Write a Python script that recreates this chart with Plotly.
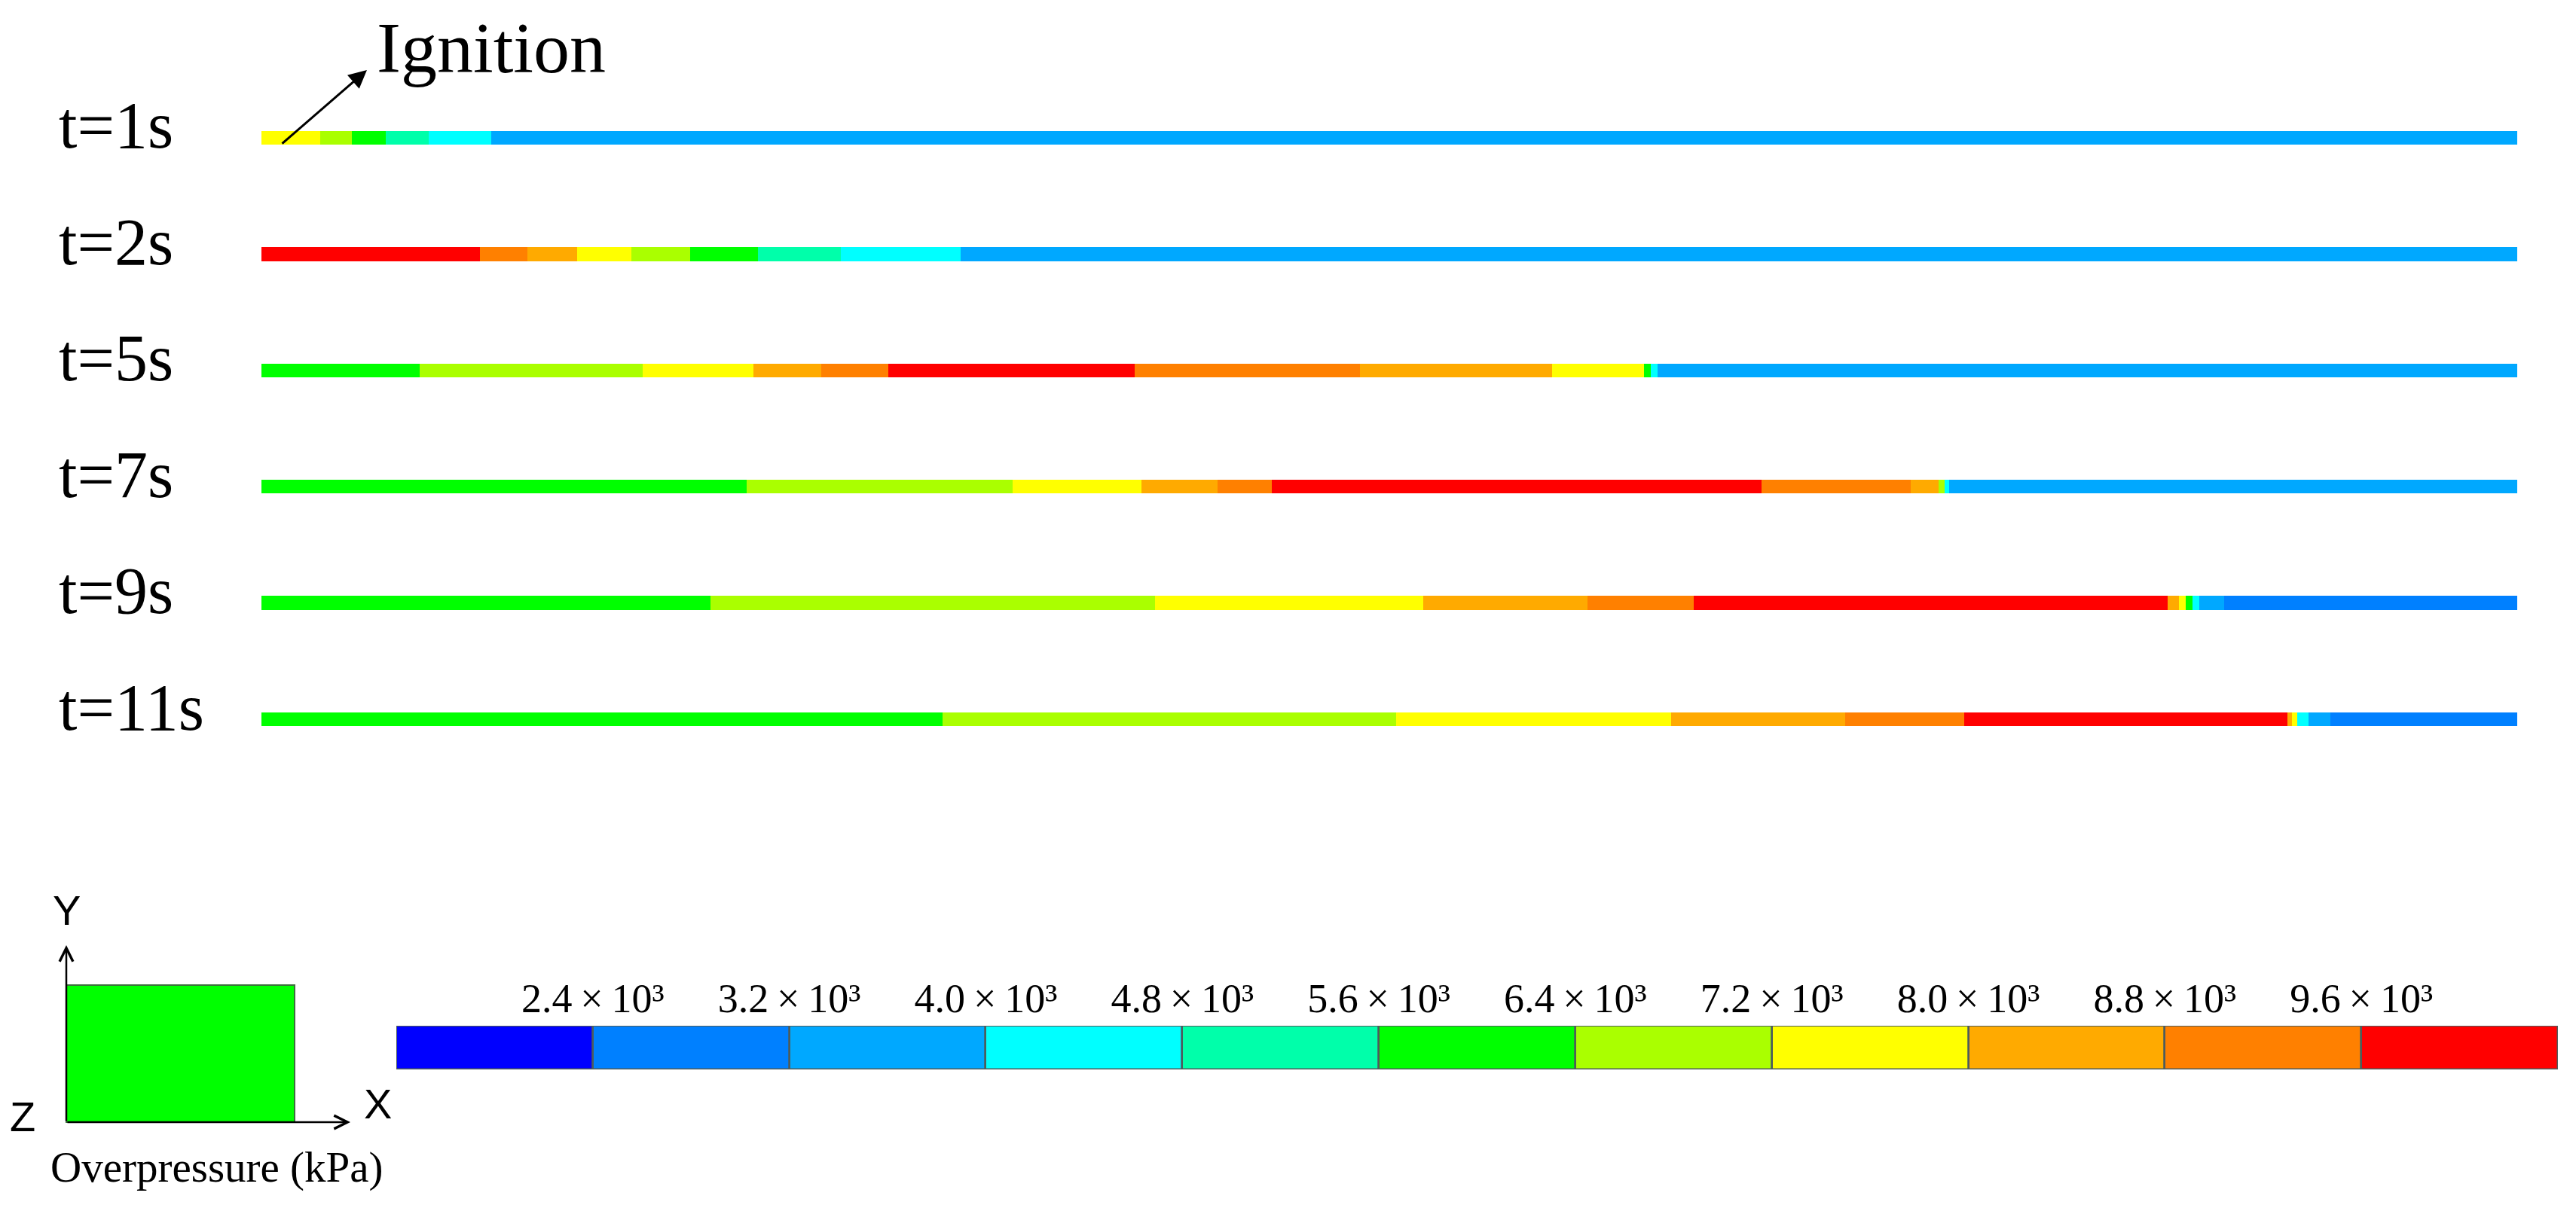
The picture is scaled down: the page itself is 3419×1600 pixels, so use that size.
import bisect
import plotly.graph_objects as go

# ---------------- data ----------------
time_labels = ["t=1s", "t=2s", "t=5s", "t=7s", "t=9s", "t=11s"]

# overpressure legend classes (kPa)
legend_edges = [1600, 2400, 3200, 4000, 4800, 5600, 6400, 7200, 8000, 8800, 9600, 10400]
legend_colors = ["#0000FF", "#0080FF", "#00A8FF", "#00FFFF", "#00FFAA", "#00FF00",
                 "#AAFF00", "#FFFF00", "#FFAA00", "#FF8000", "#FF0000"]
tick_values = [2400, 3200, 4000, 4800, 5600, 6400, 7200, 8000, 8800, 9600]
tick_labels = ["2.4\u2009×\u200910³", "3.2\u2009×\u200910³", "4.0\u2009×\u200910³",
               "4.8\u2009×\u200910³", "5.6\u2009×\u200910³", "6.4\u2009×\u200910³",
               "7.2\u2009×\u200910³", "8.0\u2009×\u200910³", "8.8\u2009×\u200910³",
               "9.6\u2009×\u200910³"]

# segment end positions along the tube (% of tube length) and overpressure class (kPa)
t1_ends = [2.6, 4.0, 5.5, 7.4, 10.2, 100.0]
t1_vals = [7600, 6800, 6000, 5200, 4400, 3600]

t2_ends = [9.7, 11.8, 14.0, 16.4, 19.0, 22.0, 25.7, 31.0, 100.0]
t2_vals = [10000, 9200, 8400, 7600, 6800, 6000, 5200, 4400, 3600]

t5_ends = [7.0, 16.9, 21.8, 24.8, 27.8, 38.7, 48.7, 57.2, 61.3, 61.6, 61.9, 100.0]
t5_vals = [6000, 6800, 7600, 8400, 9200, 10000, 9200, 8400, 7600, 6000, 4400, 3600]

t7_ends = [21.5, 33.3, 39.0, 42.4, 44.8, 66.5, 73.1, 74.35, 74.6, 74.8, 100.2]
t7_vals = [6000, 6800, 7600, 8400, 9200, 10000, 9200, 8400, 6800, 4400, 3600]

t9_ends = [19.9, 39.6, 51.5, 58.8, 63.5, 84.5, 85.0, 85.3, 85.6, 85.9, 87.0, 100.0]
t9_vals = [6000, 6800, 7600, 8400, 9200, 10000, 8400, 7600, 6000, 4400, 3600, 2800]

t11_ends = [30.2, 50.3, 62.5, 70.2, 75.5, 89.8, 90.0, 90.25, 90.75, 91.7, 100.0]
t11_vals = [6000, 6800, 7600, 8400, 9200, 10000, 8400, 7600, 4400, 3600, 2800]

rows_ends = [t1_ends, t2_ends, t5_ends, t7_ends, t9_ends, t11_ends]
rows_vals = [t1_vals, t2_vals, t5_vals, t7_vals, t9_vals, t11_vals]

# ---------------- layout helpers ----------------
W, H = 3419, 1600
OFF = 8  # page body margin of the html page


def px(x):
    return (x - OFF) / W


def py(y):
    return 1 - (y - OFF) / H


def color_of(v):
    i = bisect.bisect_right(legend_edges, v) - 1
    i = max(0, min(i, len(legend_colors) - 1))
    return legend_colors[i]


SERIF = "Liberation Serif, Times New Roman, serif"
SANS = "Liberation Sans, Arial, sans-serif"

fig = go.Figure()

# tube rows
for i, (ends, vals) in enumerate(zip(rows_ends, rows_vals)):
    starts = [0.0] + ends[:-1]
    lengths = [e - s for s, e in zip(starts, ends)]
    fig.add_trace(go.Bar(
        y=[i] * len(ends), x=lengths, base=starts, orientation="h",
        width=0.118,
        marker=dict(color=[color_of(v) for v in vals], line=dict(width=0)),
        xaxis="x", yaxis="y", showlegend=False, hoverinfo="skip",
    ))

# legend bar
fig.add_trace(go.Bar(
    y=[0] * len(legend_colors),
    x=[legend_edges[k + 1] - legend_edges[k] for k in range(len(legend_colors))],
    base=legend_edges[:-1], orientation="h", width=1,
    marker=dict(color=legend_colors, line=dict(color="#4d5c5c", width=2.5)),
    xaxis="x2", yaxis="y2", showlegend=False, hoverinfo="skip",
))

# vertical mapping of the tube rows
top_px, bot_px, row0_px, pitch = 10, 1100, 183, 154.4
y_top = (top_px - row0_px) / pitch
y_bot = (bot_px - row0_px) / pitch

annotations = []
for i, lab in enumerate(time_labels):
    annotations.append(dict(
        text=lab, xref="paper", yref="y", x=px(76), y=i, xanchor="left",
        yanchor="middle", yshift=16, showarrow=False,
        font=dict(family=SERIF, size=88, color="black")))

# Ignition label + arrow
annotations.append(dict(text="Ignition", xref="paper", yref="paper", x=px(498), y=py(63),
                        xanchor="left", yanchor="middle", showarrow=False,
                        font=dict(family=SERIF, size=96, color="black")))
annotations.append(dict(text="", xref="paper", yref="paper", x=px(487), y=py(93),
                        ax=-114, ay=99, showarrow=True, arrowhead=2, arrowsize=1.6,
                        arrowwidth=3, arrowcolor="black", standoff=0))

# coordinate icon
annotations.append(dict(text="", xref="paper", yref="paper", x=px(88), y=py(1255),
                        ax=0, ay=235, showarrow=True, arrowhead=5, arrowsize=1.4,
                        arrowwidth=2.5, arrowcolor="black"))
annotations.append(dict(text="", xref="paper", yref="paper", x=px(465), y=py(1490),
                        ax=-377, ay=0, showarrow=True, arrowhead=5, arrowsize=1.4,
                        arrowwidth=2.5, arrowcolor="black"))
for t, (cx, cy) in zip(["Y", "X", "Z"], [(88, 1208), (502, 1465), (30, 1482)]):
    annotations.append(dict(text=t, xref="paper", yref="paper", x=px(cx), y=py(cy),
                            xanchor="center", yanchor="middle", showarrow=False,
                            font=dict(family=SANS, size=56, color="black")))
annotations.append(dict(text="Overpressure (kPa)", xref="paper", yref="paper",
                        x=px(288), y=py(1550), xanchor="center", yanchor="middle",
                        showarrow=False, font=dict(family=SERIF, size=57, color="black")))

shapes = [dict(type="rect", xref="paper", yref="paper", x0=px(88), x1=px(391),
               y0=py(1490), y1=py(1308), fillcolor="#00FF00",
               line=dict(color="#3c6e3c", width=2), layer="below")]

fig.update_layout(
    width=W, height=H, margin=dict(l=0, r=0, t=0, b=0),
    paper_bgcolor="white", plot_bgcolor="white",
    barmode="overlay", bargap=0,
    xaxis=dict(domain=[px(347), px(3341)], range=[0, 100], visible=False, fixedrange=True),
    yaxis=dict(domain=[py(bot_px), py(top_px)], range=[y_bot, y_top], visible=False,
               fixedrange=True),
    xaxis2=dict(domain=[px(526), px(3395)], range=[legend_edges[0], legend_edges[-1]],
                anchor="y2", side="top", tickvals=tick_values, ticktext=tick_labels,
                ticks="", showgrid=False, zeroline=False, showline=False,
                ticklabelstandoff=6,
                tickfont=dict(family=SERIF, size=54, color="black")),
    yaxis2=dict(domain=[py(1420), py(1362)], range=[-0.5, 0.5], visible=False,
                anchor="x2"),
    annotations=annotations, shapes=shapes,
)

fig.write_html("out.html")
